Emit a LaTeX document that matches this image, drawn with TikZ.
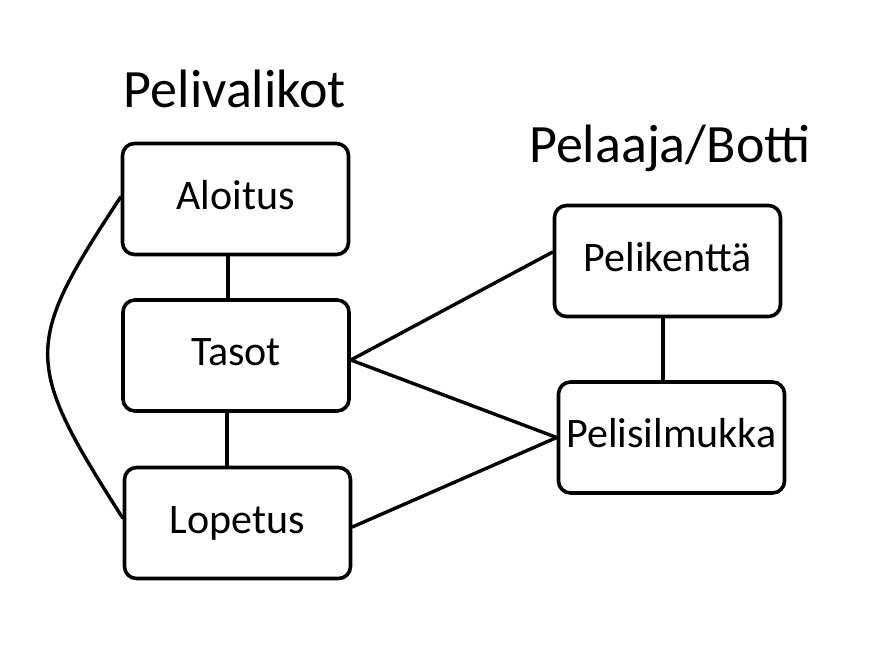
\documentclass[tikz,border=0pt]{standalone}
\usepackage{fontspec}
\setmainfont{Carlito}
\begin{document}
\begin{tikzpicture}[x=1pt,y=-1pt,
  box/.style={draw=black, line width=3.6pt, rounded corners=12pt, inner sep=0pt,
    minimum width=226pt, minimum height=111pt, text height=28pt, text depth=8pt,
    font=\fontsize{42}{50}\selectfont},
  title/.style={anchor=base, inner sep=0pt, font=\fontsize{54}{64}\selectfont},
  conn/.style={line width=3.4pt, line cap=round, line join=round}]
\useasboundingbox[fill=white] (0,0) rectangle (891,656);
\node[title] (t1) at (235,107) {Pelivalikot};
\node[title] (t2) at (670,162) {Pelaaja/Botti};
\node[box] (al) at (235.5,199) {Aloitus};
\node[box] (ta) at (236,355.5) {Tasot};
\node[box] (lo) at (237.5,523) {Lopetus};
\node[box] (pk) at (667.5,261) {Pelikenttä};
\node[box] (ps) at (671.5,437.5) {Pelisilmukka};
\draw[conn] ([xshift=-7.5pt]al.south) -- ([xshift=-8pt]ta.north);
\draw[conn] ([xshift=-9pt]ta.south) -- ([xshift=-10.5pt]lo.north);
\draw[conn] ([xshift=-4.5pt]pk.south) -- ([xshift=-8.5pt]ps.north);
\draw[conn] ([yshift=-4.5pt]ta.east) -- ([yshift=9pt]pk.west);
\draw[conn] ([yshift=-4.5pt]ta.east) -- (ps.west);
\draw[conn] ([yshift=-4pt]lo.east) -- (ps.west);
\draw[conn] ([yshift=2pt]al.west) .. controls (23,345) and (23,362) .. ([yshift=5pt]lo.west);
\end{tikzpicture}
\end{document}
